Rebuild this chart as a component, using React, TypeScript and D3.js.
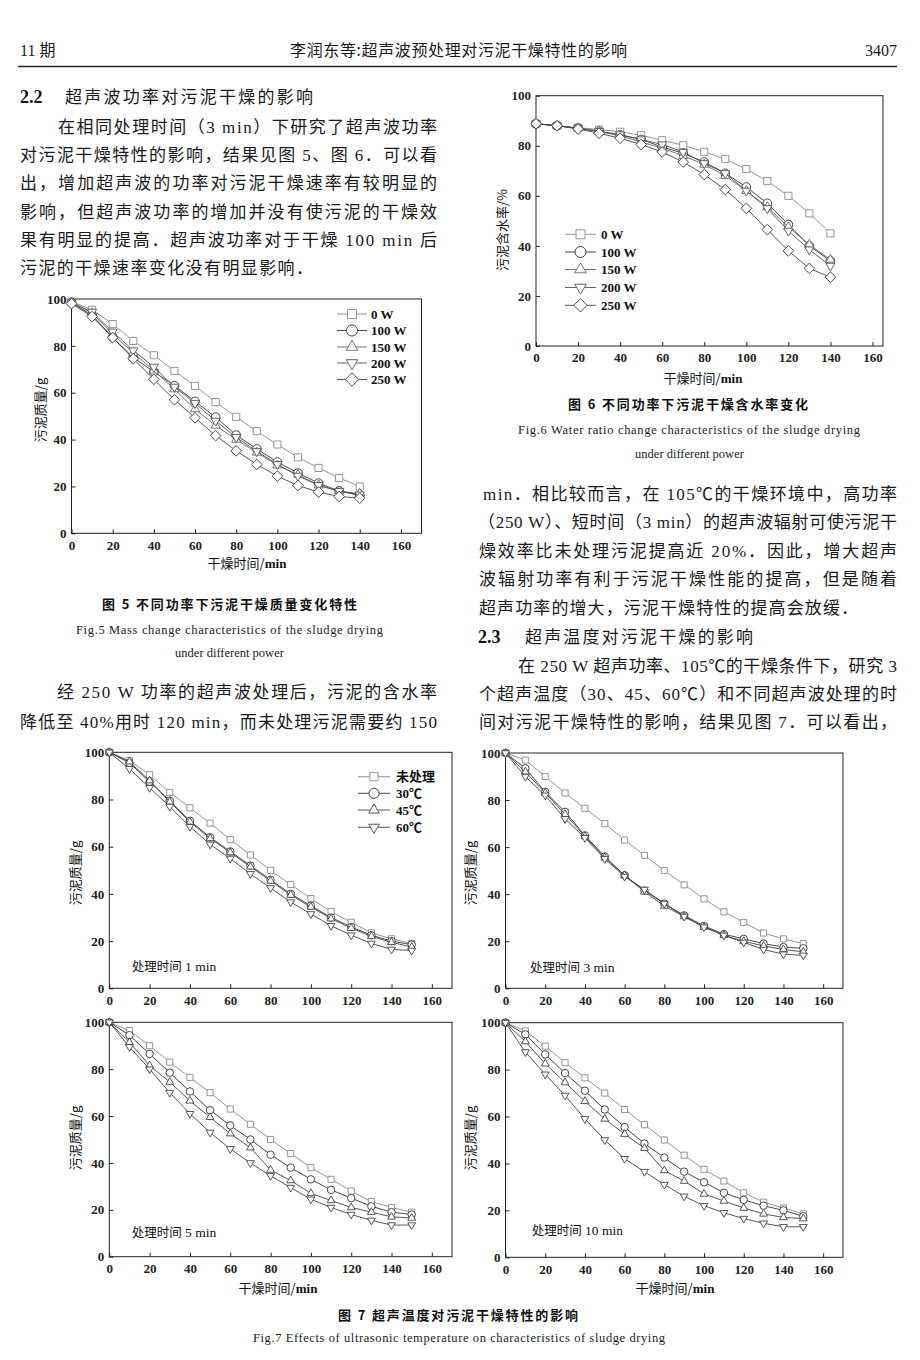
import React, { useEffect, useRef } from 'react';
import * as d3 from 'd3';

// drying time (min)
const dryTimes140 = [0, 10, 20, 30, 40, 50, 60, 70, 80, 90, 100, 110, 120, 130, 140];
const dryTimes150 = [0, 10, 20, 30, 40, 50, 60, 70, 80, 90, 100, 110, 120, 130, 140, 150];
const xTicks = [0, 20, 40, 60, 80, 100, 120, 140, 160];
const yTicks = [0, 20, 40, 60, 80, 100];

const powerLabels = ['0 W', '100 W', '150 W', '200 W', '250 W'];
const tempLabels = ['未处理', '30℃', '45℃', '60℃'];

// Fig.5 sludge mass (g)
const mass0W = [98.9, 95.4, 89.3, 82.1, 76, 69.3, 62.9, 56, 49.7, 43.6, 37.9, 32.4, 27.9, 23.6, 20];
const mass100W = [98.5, 93.1, 83.6, 75, 69, 63, 56.3, 49.6, 41.9, 36, 30.4, 25.7, 21.4, 18.1, 16.1];
const mass150W = [98.5, 94, 85, 77, 69.5, 61.5, 53, 46, 40, 34.5, 29, 25, 20.5, 18, 17];
const mass200W = [98.5, 94.5, 86, 78, 71, 62.5, 55.5, 48, 41, 35, 29.5, 24.5, 20.5, 18, 16.5];
const mass250W = [98, 92.5, 83.5, 74.5, 65.7, 57, 49.3, 41.7, 35.2, 29.4, 24.4, 20.4, 17.6, 15.7, 15];

// Fig.6 water ratio (%)
const water0W = [88.8, 88, 87.2, 86.5, 85.6, 84.2, 82.2, 80.2, 77.6, 74.7, 70.7, 65.9, 60, 53, 45];
const water100W = [88.8, 88, 87, 85.7, 84.3, 82.5, 79.5, 77, 73.5, 69, 63.5, 57, 48.5, 40, 34];
const water150W = [88.8, 88, 87, 85.8, 84, 81.5, 79, 76, 72.5, 68, 62, 55.5, 47.5, 40.5, 34.5];
const water200W = [88.8, 88, 87, 85.8, 84.5, 82.5, 80.5, 77.5, 73, 69, 62, 55, 46, 38.5, 32];
const water250W = [88.8, 88, 86.7, 85, 83, 80.5, 77.5, 73.5, 68.5, 62.5, 55, 46.5, 38, 31, 27.5];

// Fig.7 sludge mass (g), treatment 1 min
const t1Untreated = [100, 96.5, 90.5, 83, 76.5, 70, 63, 56.5, 50, 44, 38, 32.5, 28, 23.5, 21, 19];
const t1Temp30 = [100, 95.5, 87.5, 79.5, 71, 64, 58, 52, 46, 40, 35, 30, 26, 22.5, 20, 18.5];
const t1Temp45 = [100, 96, 88, 79, 70.5, 63.5, 57.5, 51.5, 45.5, 39.5, 34.5, 29.5, 25.5, 22, 19.5, 17.5];
const t1Temp60 = [100, 93, 85, 77, 68.5, 61, 55, 48.5, 42.5, 36.5, 31.5, 26.5, 22.5, 19, 16.5, 16];

// treatment 3 min
const t3Untreated = [100, 97, 90, 83, 76.5, 70, 63, 56.5, 50, 44, 38, 32.5, 28, 23.5, 21, 19];
const t3Temp30 = [100, 93.5, 83.5, 75, 65, 56, 48, 41.5, 36, 31, 26.5, 23, 21, 19, 17.5, 17];
const t3Temp45 = [100, 92, 83, 74, 64.5, 55.5, 48, 41, 35, 30.5, 26, 22.5, 20, 18, 16.5, 15.5];
const t3Temp60 = [100, 90, 82, 72, 64, 55, 47.5, 42, 36, 30.5, 26, 22.5, 19.5, 16.5, 14.5, 14];

// treatment 5 min
const t5Untreated = [100, 96.5, 90, 83, 76.5, 70, 63, 56.5, 50, 44, 38, 33, 28, 23.5, 21, 19];
const t5Temp30 = [100, 94.5, 86.5, 78.5, 70.5, 62.5, 56, 50, 43.5, 38, 33, 28.5, 25, 21.5, 19, 18];
const t5Temp45 = [100, 91.5, 81.5, 74.5, 66.5, 59.5, 52.5, 46.5, 37, 32.5, 27, 24, 21, 19, 17, 16.5];
const t5Temp60 = [100, 89.5, 80, 70, 61, 53, 46, 40, 34.5, 29.5, 24.5, 21, 18, 15.5, 13.5, 13.5];

// treatment 10 min
const t10Untreated = [100, 96.5, 90, 83, 76.5, 70, 63, 56.5, 50, 43.5, 37.5, 32.5, 27.5, 23.5, 21, 18.5];
const t10Temp30 = [100, 95, 86.5, 78.5, 71, 63, 55.5, 48.5, 42.5, 36.5, 32, 27.5, 24.5, 22, 20, 17.5];
const t10Temp45 = [100, 92, 82.5, 74.5, 66.5, 59, 52.5, 46.5, 37, 32.5, 27, 24, 21, 18.5, 17, 16.5];
const t10Temp60 = [100, 87.5, 78, 69, 59, 50, 42, 36.5, 31, 26, 22, 19, 16.5, 14.5, 13, 13];

const powerShapes = ['square', 'circle', 'triangle', 'triangleDown', 'diamond'];
const powerColors = ['#8a8a8a', '#333', '#666', '#555', '#444'];
const tempShapes = ['square', 'circle', 'triangle', 'triangleDown'];
const tempColors = ['#8a8a8a', '#333', '#444', '#444'];

const SERIF = "'Liberation Serif', 'Times New Roman', 'Noto Sans CJK SC', serif";
const CJK = "'Noto Sans CJK SC', sans-serif";

const markerPath = (shape, size) => {
  if (shape === 'circle') return d3.symbol(d3.symbolCircle, size)();
  if (shape === 'triangle' || shape === 'triangleDown') return d3.symbol(d3.symbolTriangle, size * 0.6)();
  if (shape === 'diamond') return d3.symbol(d3.symbolSquare, size * 0.95)();
  return d3.symbol(d3.symbolSquare, size * 0.85)();
};
const markerRotate = (shape) => (shape === 'triangleDown' ? 180 : shape === 'diamond' ? 45 : 0);

const Panel = ({ left, right, top, bottom, xMax, times, series, shapes, colors, markerSize, legend, legendSize }) => {
  const ref = useRef(null);

  useEffect(() => {
    const g = d3.select(ref.current);
    g.selectAll('*').remove();

    const x = d3.scaleLinear().domain([0, xMax]).range([left, right]);
    const y = d3.scaleLinear().domain([0, 100]).range([bottom, top]);

    // frame
    g.append('rect')
      .attr('x', left)
      .attr('y', top)
      .attr('width', right - left)
      .attr('height', bottom - top)
      .attr('fill', 'none')
      .attr('stroke', '#222')
      .attr('stroke-width', 1);

    // x-axis
    const xa = g.append('g')
      .attr('transform', `translate(0,${bottom})`)
      .call(d3.axisBottom(x).tickValues(xTicks).tickSize(-4).tickSizeOuter(0).tickPadding(7));
    xa.select('.domain').remove();
    xa.attr('color', '#222').attr('font-family', SERIF).attr('font-size', 13).attr('font-weight', 'bold');

    // y-axis
    const ya = g.append('g')
      .attr('transform', `translate(${left},0)`)
      .call(d3.axisLeft(y).tickValues(yTicks).tickSize(-4).tickSizeOuter(0).tickPadding(5));
    ya.select('.domain').remove();
    ya.attr('color', '#222').attr('font-family', SERIF).attr('font-size', 13).attr('font-weight', 'bold');

    const line = d3.line().x((d, i) => x(times[i])).y((d) => y(d));

    series.forEach((vals, s) => {
      g.append('path')
        .datum(vals)
        .attr('fill', 'none')
        .attr('stroke', colors[s])
        .attr('stroke-width', 0.9)
        .attr('d', line);

      vals.forEach((v, i) => {
        g.append('path')
          .attr('d', markerPath(shapes[s], markerSize))
          .attr('transform', `translate(${x(times[i])},${y(v)}) rotate(${markerRotate(shapes[s])})`)
          .attr('fill', 'white')
          .attr('stroke', colors[s])
          .attr('stroke-width', 0.9);
      });
    });

    // legend
    if (legend) {
      legend.labels.forEach((label, s) => {
        const ly = legend.ys[s];
        g.append('line')
          .attr('x1', legend.x0)
          .attr('x2', legend.x1)
          .attr('y1', ly)
          .attr('y2', ly)
          .attr('stroke', colors[s])
          .attr('stroke-width', 0.9);
        g.append('path')
          .attr('d', markerPath(shapes[s], legendSize))
          .attr('transform', `translate(${(legend.x0 + legend.x1) / 2},${ly}) rotate(${markerRotate(shapes[s])})`)
          .attr('fill', 'white')
          .attr('stroke', colors[s])
          .attr('stroke-width', 0.9);
        g.append('text')
          .attr('x', legend.textX)
          .attr('y', ly + 4.5)
          .attr('font-family', SERIF)
          .attr('font-weight', 'bold')
          .attr('font-size', 13)
          .attr('fill', '#111')
          .text(label);
      });
    }
  }, [left, right, top, bottom, xMax, times, series, shapes, colors, markerSize, legend, legendSize]);

  return <g ref={ref} />;
};

const YTitle = ({ x, y, text }) => (
  <text transform={`translate(${x},${y}) rotate(-90)`} textAnchor="middle" dy="0.35em"
    fontFamily={CJK} fontSize={13} fill="#111">{text}</text>
);

const XTitle = ({ x, y }) => (
  <text x={x} y={y + 5} textAnchor="middle" fontSize={13} fill="#111">
    <tspan fontFamily={CJK}>干燥时间/</tspan>
    <tspan fontFamily={SERIF} fontWeight="bold">min</tspan>
  </text>
);

const Note = ({ x, y, text, minutes }) => (
  <text x={x} y={y + 5} fontSize={12.5} fill="#111">
    <tspan fontFamily={CJK}>{text}</tspan>
    <tspan fontFamily={SERIF} fontSize={13.5}>{` ${minutes} min`}</tspan>
  </text>
);

const Body = ({ x, y, w, children }) => (
  <text x={x} y={y + 6} textLength={w} lengthAdjust="spacing" fontFamily={SERIF} fontSize={17} fill="#1a1a1a">
    {children}
  </text>
);

const App = () => {
  const left = [
    ['在相同处理时间（3 min）下研究了超声波功率', 58, 126.7, 379],
    ['对污泥干燥特性的影响，结果见图 5、图 6．可以看', 20, 155, 417],
    ['出，增加超声波的功率对污泥干燥速率有较明显的', 20, 183.3, 417],
    ['影响，但超声波功率的增加并没有使污泥的干燥效', 20, 211.7, 417],
    ['果有明显的提高．超声波功率对于干燥 100 min 后', 20, 240, 417],
    ['污泥的干燥速率变化没有明显影响．', 20, 268.3, 293],
    ['经 250 W 功率的超声波处理后，污泥的含水率', 57, 691.7, 380],
    ['降低至 40%用时 120 min，而未处理污泥需要约 150', 20, 721.7, 417],
  ];
  const right = [
    ['min．相比较而言，在 105℃的干燥环境中，高功率', 483, 494, 414],
    ['（250 W）、短时间（3 min）的超声波辐射可使污泥干', 478, 522.3, 419],
    ['燥效率比未处理污泥提高近 20%．因此，增大超声', 479, 551, 418],
    ['波辐射功率有利于污泥干燥性能的提高，但是随着', 479, 579.3, 418],
    ['超声功率的增大，污泥干燥特性的提高会放缓．', 479, 608.3, 379],
    ['在 250 W 超声功率、105℃的干燥条件下，研究 3', 518, 666, 379],
    ['个超声温度（30、45、60℃）和不同超声波处理的时', 479, 694, 418],
    ['间对污泥干燥特性的影响，结果见图 7．可以看出，', 479, 722.3, 418],
  ];

  return (
    <svg width={920} height={1360} style={{ position: 'absolute', left: 0, top: 0, background: '#fff' }}>
      <rect width={920} height={1360} fill="#fff" />

      {/* running header */}
      <text x={20} y={56} fontSize={16} fill="#1a1a1a">
        <tspan fontFamily={SERIF}>11 </tspan><tspan fontFamily={CJK}>期</tspan>
      </text>
      <text x={290} y={56} textLength={337} lengthAdjust="spacing" fontFamily={CJK} fontSize={16} fill="#1a1a1a">
        李润东等:超声波预处理对污泥干燥特性的影响
      </text>
      <text x={897} y={56} textAnchor="end" fontFamily={SERIF} fontSize={16} fill="#1a1a1a">3407</text>
      <line x1={18} x2={897} y1={66.5} y2={66.5} stroke="#222" strokeWidth={1.4} />

      {/* section 2.2 */}
      <text x={20} y={102.7} fontFamily={SERIF} fontWeight="bold" fontSize={18} fill="#111">2.2</text>
      <text x={65} y={102.7} textLength={248} lengthAdjust="spacing" fontFamily={CJK} fontSize={17} fill="#1a1a1a">超声波功率对污泥干燥的影响</text>
      {left.map(([t, x, y, w]) => <Body key={t} x={x} y={y} w={w}>{t}</Body>)}

      {/* section 2.3 */}
      <text x={478} y={642.7} fontFamily={SERIF} fontWeight="bold" fontSize={18} fill="#111">2.3</text>
      <text x={525} y={642.7} textLength={228} lengthAdjust="spacing" fontFamily={CJK} fontSize={17} fill="#1a1a1a">超声温度对污泥干燥的影响</text>
      {right.map(([t, x, y, w]) => <Body key={t} x={x} y={y} w={w}>{t}</Body>)}

      {/* Fig.5 */}
      <Panel left={71.5} right={421.5} top={299} bottom={533.3} xMax={170} times={dryTimes140}
        series={[mass0W, mass100W, mass150W, mass200W, mass250W]} shapes={powerShapes} colors={powerColors}
        markerSize={60} legendSize={95}
        legend={{ labels: powerLabels, x0: 337, x1: 367, textX: 371, ys: [314, 330.5, 347, 363, 379.5] }} />
      <YTitle x={40} y={410} text="污泥质量/g" />
      <XTitle x={247} y={563} />
      <text x={229.5} y={608.5} textLength={255} lengthAdjust="spacing" textAnchor="middle" fontFamily={CJK} fontWeight="bold" fontSize={13} fill="#111">图 5  不同功率下污泥干燥质量变化特性</text>
      <text x={229.5} y={633.5} textLength={307} lengthAdjust="spacing" textAnchor="middle" fontFamily={SERIF} fontSize={12.5} fill="#222">Fig.5  Mass change characteristics of the sludge drying</text>
      <text x={229.5} y={657} textAnchor="middle" fontFamily={SERIF} fontSize={12.5} fill="#222">under different power</text>

      {/* Fig.6 */}
      <Panel left={536} right={883} top={95.7} bottom={346} xMax={165} times={dryTimes140}
        series={[water0W, water100W, water150W, water200W, water250W]} shapes={powerShapes} colors={powerColors}
        markerSize={60} legendSize={95}
        legend={{ labels: powerLabels, x0: 565, x1: 596, textX: 601, ys: [234.3, 252, 269.5, 287.5, 305.3] }} />
      <YTitle x={502} y={230} text="污泥含水率/%" />
      <XTitle x={703} y={378} />
      <text x={688} y={408.5} textLength={240} lengthAdjust="spacing" textAnchor="middle" fontFamily={CJK} fontWeight="bold" fontSize={13} fill="#111">图 6  不同功率下污泥干燥含水率变化</text>
      <text x={689} y={433.5} textLength={342} lengthAdjust="spacing" textAnchor="middle" fontFamily={SERIF} fontSize={12.5} fill="#222">Fig.6  Water ratio change characteristics of the sludge drying</text>
      <text x={689.5} y={457.5} textAnchor="middle" fontFamily={SERIF} fontSize={12.5} fill="#222">under different power</text>

      {/* Fig.7 */}
      <Panel left={109.3} right={452} top={752.3} bottom={988.3} xMax={170} times={dryTimes150}
        series={[t1Untreated, t1Temp30, t1Temp45, t1Temp60]} shapes={tempShapes} colors={tempColors}
        markerSize={44} legendSize={80}
        legend={{ labels: tempLabels, x0: 358, x1: 390, textX: 396, ys: [776.7, 793.3, 810, 827.3] }} />
      <YTitle x={75} y={873} text="污泥质量/g" />
      <Note x={131.7} y={966} text="处理时间" minutes="1" />

      <Panel left={505.5} right={843} top={753} bottom={988.3} xMax={170} times={dryTimes150}
        series={[t3Untreated, t3Temp30, t3Temp45, t3Temp60]} shapes={tempShapes} colors={tempColors}
        markerSize={44} />
      <YTitle x={470} y={873} text="污泥质量/g" />
      <Note x={530} y={966.5} text="处理时间" minutes="3" />

      <Panel left={109.3} right={452} top={1022.3} bottom={1256.7} xMax={170} times={dryTimes150}
        series={[t5Untreated, t5Temp30, t5Temp45, t5Temp60]} shapes={tempShapes} colors={tempColors}
        markerSize={44} />
      <YTitle x={75} y={1138} text="污泥质量/g" />
      <Note x={131.7} y={1231.7} text="处理时间" minutes="5" />
      <XTitle x={278} y={1288} />

      <Panel left={505.5} right={843} top={1022.7} bottom={1257.3} xMax={170} times={dryTimes150}
        series={[t10Untreated, t10Temp30, t10Temp45, t10Temp60]} shapes={tempShapes} colors={tempColors}
        markerSize={44} />
      <YTitle x={470} y={1138} text="污泥质量/g" />
      <Note x={531.7} y={1230} text="处理时间" minutes="10" />
      <XTitle x={675} y={1288} />

      <text x={458} y={1320} textLength={240} lengthAdjust="spacing" textAnchor="middle" fontFamily={CJK} fontWeight="bold" fontSize={13} fill="#111">图 7  超声温度对污泥干燥特性的影响</text>
      <text x={459} y={1342} textLength={412} lengthAdjust="spacing" textAnchor="middle" fontFamily={SERIF} fontSize={12.5} fill="#222">Fig.7  Effects of ultrasonic temperature on characteristics of sludge drying</text>
    </svg>
  );
};

export default App;
